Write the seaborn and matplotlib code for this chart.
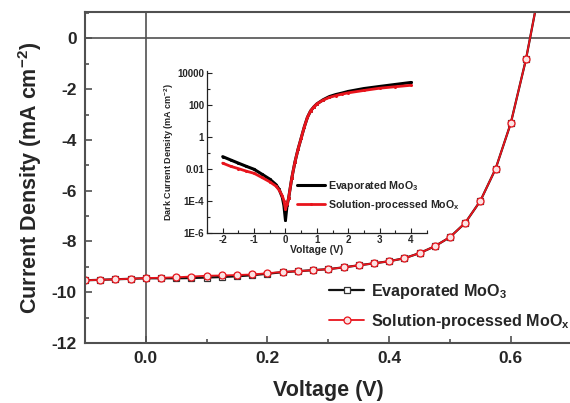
import numpy as np
import pandas as pd
import matplotlib
matplotlib.use("Agg")
import matplotlib.pyplot as plt
import seaborn as sns
from matplotlib.ticker import MultipleLocator, FixedLocator, FixedFormatter, NullFormatter

# ---------------- data ----------------
voltage = [-0.1, -0.075, -0.05, -0.025, 0.0, 0.025, 0.05, 0.075, 0.1, 0.125,
           0.15, 0.175, 0.2, 0.225, 0.25, 0.275, 0.3, 0.325, 0.35, 0.375,
           0.4, 0.425, 0.45, 0.475, 0.5, 0.525, 0.55, 0.575, 0.6, 0.625, 0.65]
j_evap = [-9.53, -9.51, -9.49, -9.47, -9.45, -9.45, -9.45, -9.44, -9.42, -9.40,
          -9.37, -9.33, -9.27, -9.21, -9.17, -9.13, -9.09, -9.02, -8.94, -8.86,
          -8.78, -8.66, -8.46, -8.19, -7.83, -7.27, -6.40, -5.14, -3.34, -0.82, 2.3]
j_sol = [-9.53, -9.51, -9.49, -9.47, -9.44, -9.43, -9.41, -9.38, -9.35, -9.34,
         -9.32, -9.30, -9.25, -9.20, -9.17, -9.13, -9.09, -9.02, -8.94, -8.86,
         -8.78, -8.66, -8.46, -8.19, -7.83, -7.27, -6.40, -5.14, -3.34, -0.82, 2.3]
x_ticks = [0.0, 0.2, 0.4, 0.6]
x_tick_labels = ["0.0", "0.2", "0.4", "0.6"]
y_ticks = [-12, -10, -8, -6, -4, -2, 0]
y_tick_labels = ["-12", "-10", "-8", "-6", "-4", "-2", "0"]

dark_v = [-2.0, -1.75, -1.5, -1.25, -1.0, -0.75, -0.5, -0.3, -0.2, -0.1, -0.05,
          0.0, 0.05, 0.1, 0.2, 0.3, 0.4, 0.5, 0.6, 0.7, 0.8, 0.9, 1.0, 1.2,
          1.4, 1.6, 1.8, 2.0, 2.5, 3.0, 3.5, 4.0]
dark_evap = [0.056, 0.035, 0.022, 0.014, 0.0091, 0.0045, 0.0022, 0.001, 5e-4, 1.6e-4, 5e-5,
             6e-6, 5e-5, 1.4e-4, 2.5e-3, 0.025, 0.16, 0.8, 4, 16, 40, 70, 110, 200,
             316, 420, 520, 660, 1000, 1350, 1800, 2400]
dark_sol = [0.022, 0.014, 0.01, 0.007, 0.0051, 0.0028, 0.0015, 8e-4, 4.5e-4, 2e-4, 1e-4,
            3e-5, 6e-5, 1.4e-4, 2.5e-3, 0.025, 0.16, 0.8, 4, 16, 40, 70, 110, 190,
            280, 360, 450, 540, 760, 1050, 1300, 1600]
inset_x_ticks = [-2, -1, 0, 1, 2, 3, 4]
inset_y_ticks = [1e-6, 1e-4, 1e-2, 1, 1e2, 1e4]
inset_y_labels = ["1E-6", "1E-4", "0.01", "1", "100", "10000"]

label_evap = "Evaporated MoO$_3$"
label_sol = "Solution-processed MoO$_x$"

# ---------------- style ----------------
sns.set_style("ticks")
plt.rcParams["font.family"] = ["Liberation Sans", "DejaVu Sans"]
plt.rcParams["font.weight"] = "bold"
plt.rcParams["axes.labelweight"] = "bold"
plt.rcParams["axes.unicode_minus"] = False
plt.rcParams["mathtext.fontset"] = "custom"
plt.rcParams["mathtext.rm"] = "Liberation Sans:bold"
plt.rcParams["mathtext.bf"] = "Liberation Sans:bold"
plt.rcParams["mathtext.it"] = "Liberation Sans:bold"
plt.rcParams["mathtext.default"] = "bf"

spine_c = "#505050"
red = "#e8141c"

fig = plt.figure(figsize=(5.7, 4.03), dpi=100)
ax = fig.add_axes([85/570, 1 - 343/403, (571.6 - 85)/570, (343 - 12.3)/403])

main_df = pd.DataFrame({"V": voltage, "J_evap": j_evap, "J_sol": j_sol})
sns.lineplot(data=main_df, x="V", y="J_evap", ax=ax, color="#111111", lw=1.6,
             marker="s", markersize=4.5, markerfacecolor="white",
             markeredgecolor="#333333", markeredgewidth=0.9, label=label_evap,
             sort=False, estimator=None)
sns.lineplot(data=main_df, x="V", y="J_sol", ax=ax, color=red, lw=1.3,
             marker="o", markersize=5, markerfacecolor="#fbe3e3",
             markeredgecolor=red, markeredgewidth=0.9, label=label_sol,
             sort=False, estimator=None)

ax.axhline(0, color=spine_c, lw=1.2, zorder=1)
ax.axvline(0, color=spine_c, lw=1.2, zorder=1)
ax.set_xlim(-0.1, 0.7)
ax.set_ylim(-12, 1.03)
ax.set_xticks(x_ticks)
ax.set_xticklabels(x_tick_labels, fontweight="bold", fontsize=12.5)
ax.set_yticks(y_ticks)
ax.set_yticklabels(y_tick_labels, fontweight="bold", fontsize=12.5)
ax.xaxis.set_minor_locator(MultipleLocator(0.1))
ax.yaxis.set_minor_locator(MultipleLocator(1))
ax.tick_params(which="both", direction="in", color=spine_c, width=1.2, pad=6)
ax.tick_params(which="major", length=5)
ax.tick_params(which="minor", length=3)
for s in ax.spines.values():
    s.set_color(spine_c)
    s.set_linewidth(1.5)
ax.set_xlabel("Voltage (V)", fontsize=15.5, fontweight="bold", labelpad=10)
ax.set_ylabel("Current Density (mA cm$^{-2}$)", fontsize=15.5, fontweight="bold", labelpad=5)

leg = ax.legend(loc="lower left", bbox_to_anchor=(0.488, 0.018),
                frameon=False, fontsize=11.6, handlelength=2.2, handletextpad=0.4,
                labelspacing=0.65, borderaxespad=0)
for t in leg.get_texts():
    t.set_fontweight("bold")

# ---------------- inset ----------------
iax = fig.add_axes([207/570, 1 - 232.7/403, (426.7 - 207)/570, (232.7 - 70.7)/403])
dark_df = pd.DataFrame({"V": dark_v, "E": dark_evap, "S": dark_sol})
sns.lineplot(data=dark_df, x="V", y="E", ax=iax, color="black", lw=2.2,
             marker="o", markersize=2.2, markeredgewidth=0, label=label_evap,
             sort=False, estimator=None)
sns.lineplot(data=dark_df, x="V", y="S", ax=iax, color=red, lw=2.0,
             marker="o", markersize=2.2, markeredgewidth=0, label=label_sol,
             sort=False, estimator=None)
iax.set_yscale("log")
iax.set_xlim(-2.5, 4.5)
iax.set_ylim(1e-6, 1.3e4)
iax.set_xticks(inset_x_ticks)
iax.set_xticklabels([str(v) for v in inset_x_ticks], fontweight="bold", fontsize=7)
iax.xaxis.set_minor_locator(MultipleLocator(0.5))
iax.yaxis.set_major_locator(FixedLocator(inset_y_ticks))
iax.yaxis.set_major_formatter(FixedFormatter(inset_y_labels))
iax.yaxis.set_minor_locator(FixedLocator([1e-5, 1e-3, 1e-1, 10, 1e3]))
iax.yaxis.set_minor_formatter(NullFormatter())
iax.tick_params(which="both", direction="in", color="#222222", width=0.8,
                labelsize=7, pad=2)
iax.tick_params(which="major", length=3.5)
iax.tick_params(which="minor", length=2.5)
for lab in iax.get_yticklabels():
    lab.set_fontweight("bold")
for side in ["top", "right"]:
    iax.spines[side].set_visible(False)
for side in ["left", "bottom"]:
    iax.spines[side].set_color("#222222")
    iax.spines[side].set_linewidth(0.9)
iax.patch.set_alpha(0)
iax.set_xlabel("Voltage (V)", fontsize=7.5, fontweight="bold", labelpad=0)
iax.set_ylabel("Dark Current Density (mA cm$^{-2}$)", fontsize=6.5, fontweight="bold", labelpad=1)
ileg = iax.legend(loc="lower left", bbox_to_anchor=(0.39, 0.10), frameon=False,
                  fontsize=7.7, handlelength=2.6, handletextpad=0.3,
                  labelspacing=0.5, borderaxespad=0)
for t in ileg.get_texts():
    t.set_fontweight("bold")

fig.savefig("out.png", dpi=100)
